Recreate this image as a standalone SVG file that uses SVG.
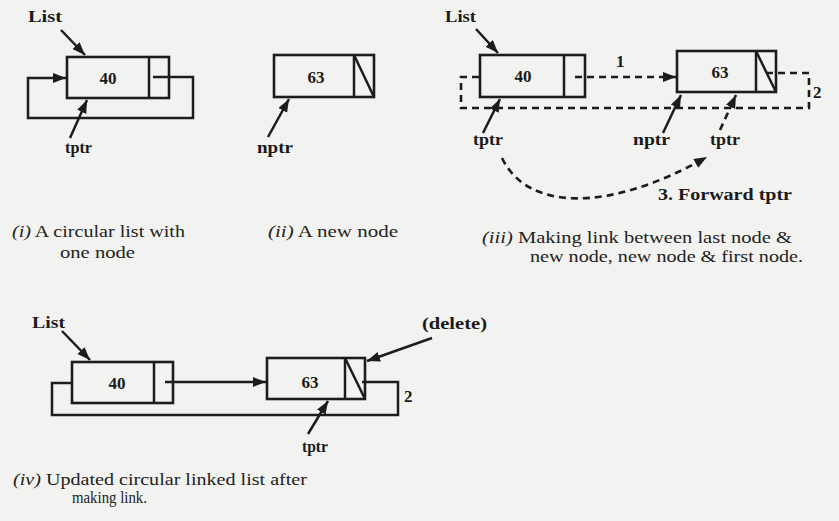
<svg xmlns="http://www.w3.org/2000/svg" width="839" height="521" viewBox="0 0 839 521">
<style>
.bg{fill:#f2f2f0}
.box{fill:none;stroke:#1c1c1c;stroke-width:2.6}
.ln{fill:none;stroke:#1c1c1c;stroke-width:2.5}
.dash{fill:none;stroke:#1c1c1c;stroke-width:2.6;stroke-dasharray:7 5}
.lbl{font-family:"Liberation Serif",serif;font-weight:bold;font-size:17px;fill:#1a1a1a}
.num{font-family:"Liberation Serif",serif;font-weight:bold;font-size:17px;fill:#1a1a1a;text-anchor:middle}
.cap{font-family:"Liberation Serif",serif;font-size:17px;fill:#222}
.it{font-style:italic}
</style>
<defs>
<marker id="ah" markerWidth="14" markerHeight="11" refX="13" refY="5" orient="auto" markerUnits="userSpaceOnUse">
<path d="M0,0 L13,5 L0,10 z" fill="#1c1c1c"/>
</marker>
</defs>
<rect class="bg" x="0" y="0" width="839" height="521"/>

<!-- (i) -->
<g id="i-node40">
<rect class="box" x="67" y="57" width="102" height="41"/>
<line class="ln" x1="149" y1="57" x2="149" y2="98"/>
<text class="num" x="108" y="84">40</text>
</g>
<g id="i-labels">
<text class="lbl" x="28" y="22" textLength="34" lengthAdjust="spacingAndGlyphs">List</text>
<text class="lbl" x="65" y="153" textLength="27" lengthAdjust="spacingAndGlyphs">tptr</text>
<text class="cap" x="12" y="237" textLength="173" lengthAdjust="spacingAndGlyphs"><tspan class="it">(i)</tspan> A circular list with</text>
<text class="cap" x="60" y="258" textLength="75" lengthAdjust="spacingAndGlyphs">one node</text>
</g>

<!-- (ii) -->
<g id="ii-node63">
<rect class="box" x="274" y="55" width="100" height="42"/>
<line class="ln" x1="354" y1="55" x2="354" y2="97"/>
<line class="ln" x1="354" y1="55" x2="374" y2="97"/>
<text class="num" x="316" y="83">63</text>
</g>
<g id="ii-labels">
<text class="lbl" x="257" y="153" textLength="36" lengthAdjust="spacingAndGlyphs">nptr</text>
<text class="cap" x="268" y="237" textLength="130" lengthAdjust="spacingAndGlyphs"><tspan class="it">(ii)</tspan> A new node</text>
</g>

<!-- (iii) -->
<g id="iii-node40">
<rect class="box" x="480" y="55" width="105" height="42"/>
<line class="ln" x1="564" y1="55" x2="564" y2="97"/>
<text class="num" x="523" y="82">40</text>
</g>
<g id="iii-node63">
<rect class="box" x="677" y="51" width="99" height="41"/>
<line class="ln" x1="756" y1="51" x2="756" y2="92"/>
<line class="ln" x1="756" y1="51" x2="776" y2="92"/>
<text class="num" x="720" y="78">63</text>
</g>
<g id="iii-labels">
<text class="lbl" x="445" y="22" textLength="31" lengthAdjust="spacingAndGlyphs">List</text>
<text class="lbl" x="616" y="67">1</text>
<text class="lbl" x="813" y="98">2</text>
<text class="lbl" x="473" y="145" textLength="30" lengthAdjust="spacingAndGlyphs">tptr</text>
<text class="lbl" x="633" y="145" textLength="37" lengthAdjust="spacingAndGlyphs">nptr</text>
<text class="lbl" x="710" y="145" textLength="30" lengthAdjust="spacingAndGlyphs">tptr</text>
<text class="lbl" x="658" y="200" textLength="134" lengthAdjust="spacingAndGlyphs">3. Forward tptr</text>
<text class="cap" x="482" y="243" textLength="310" lengthAdjust="spacingAndGlyphs"><tspan class="it">(iii)</tspan> Making link between  last node &amp;</text>
<text class="cap" x="530" y="262" textLength="273" lengthAdjust="spacingAndGlyphs">new node, new node &amp; first node.</text>
</g>

<!-- (iv) -->
<g id="iv-node40">
<rect class="box" x="72" y="362" width="101" height="41"/>
<line class="ln" x1="154" y1="362" x2="154" y2="403"/>
<text class="num" x="117" y="389">40</text>
</g>
<g id="iv-node63">
<rect class="box" x="267" y="358" width="98" height="41"/>
<line class="ln" x1="345" y1="358" x2="345" y2="399"/>
<line class="ln" x1="345" y1="358" x2="365" y2="399"/>
<text class="num" x="310" y="388">63</text>
</g>
<g id="iv-labels">
<text class="lbl" x="32" y="328" textLength="33" lengthAdjust="spacingAndGlyphs">List</text>
<text class="lbl" x="422" y="329" textLength="65" lengthAdjust="spacingAndGlyphs">(delete)</text>
<text class="lbl" x="404" y="402">2</text>
<text class="lbl" x="302" y="452" textLength="26" lengthAdjust="spacingAndGlyphs">tptr</text>
<text class="cap" x="13" y="485" textLength="294" lengthAdjust="spacingAndGlyphs"><tspan class="it">(iv)</tspan> Updated circular linked list after</text>
<text class="cap" x="72" y="503" textLength="75" lengthAdjust="spacingAndGlyphs">making link.</text>
</g>

<g id="connectors">
<!-- (i) -->
<line class="ln" x1="61" y1="30" x2="85" y2="55" marker-end="url(#ah)"/>
<path class="ln" d="M153 77 H193 V118 H28 V78 H66" marker-end="url(#ah)"/>
<line class="ln" x1="70" y1="138" x2="87" y2="100" marker-end="url(#ah)"/>
<!-- (ii) -->
<line class="ln" x1="268" y1="137" x2="289" y2="99" marker-end="url(#ah)"/>
<!-- (iii) -->
<line class="ln" x1="476" y1="29" x2="498" y2="53" marker-end="url(#ah)"/>
<line class="dash" x1="575" y1="77" x2="676" y2="77" marker-end="url(#ah)"/>
<path class="dash" d="M766 73 H809 V108 H461 V77 H480"/>
<line class="ln" x1="483" y1="133" x2="500" y2="99" marker-end="url(#ah)"/>
<line class="ln" x1="663" y1="133" x2="681" y2="95" marker-end="url(#ah)"/>
<line class="dash" x1="720" y1="130" x2="736" y2="95" marker-end="url(#ah)"/>
<path class="dash" d="M502 158 C528 212 610 212 707 157" marker-end="url(#ah)"/>
<!-- (iv) -->
<line class="ln" x1="62" y1="331" x2="90" y2="360" marker-end="url(#ah)"/>
<line class="ln" x1="165" y1="382" x2="266" y2="382" marker-end="url(#ah)"/>
<path class="ln" d="M362 382 H398 V415 H52 V383 H72"/>
<line class="ln" x1="432" y1="338" x2="367" y2="361" marker-end="url(#ah)"/>
<line class="ln" x1="308" y1="434" x2="328" y2="401" marker-end="url(#ah)"/>
</g>
</svg>
